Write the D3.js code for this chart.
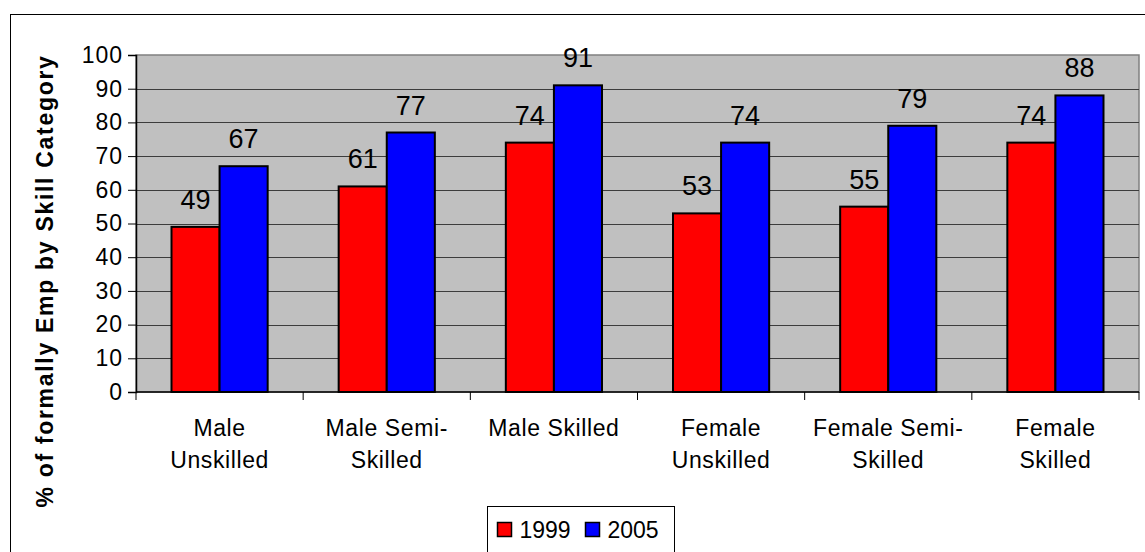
<!DOCTYPE html>
<html>
<head>
<meta charset="utf-8">
<script src="https://cdn.jsdelivr.net/npm/d3@7"></script>
<style>
  body { margin: 0; background: #fff; }
  text { font-family: Arial, "Liberation Sans", sans-serif; }
</style>
</head>
<body>
<div id="chart"></div>
<script>
var categories = [["Male", "Unskilled"], ["Male Semi-", "Skilled"], ["Male Skilled"],
                  ["Female", "Unskilled"], ["Female Semi-", "Skilled"], ["Female", "Skilled"]];
var series = ["1999", "2005"];
var values1999 = [49, 61, 74, 53, 55, 74];
var values2005 = [67, 77, 91, 74, 79, 88];
var yTicks = [0, 10, 20, 30, 40, 50, 60, 70, 80, 90, 100];
var colors = ["#FF0000", "#0000FF"];

var W = 1145, H = 552;
var margin = {top: 55, right: 6, bottom: 160, left: 136};
var width = W - margin.left - margin.right,
    height = H - margin.top - margin.bottom;

var svg = d3.select("#chart").append("svg")
    .attr("width", W)
    .attr("height", H);

// outer chart border
svg.append("rect")
    .attr("x", 10.5).attr("y", 14.5)
    .attr("width", 1160).attr("height", 560)
    .attr("fill", "none").attr("stroke", "#000").attr("stroke-width", 1);

var g = svg.append("g").attr("transform", "translate(" + margin.left + "," + margin.top + ")");

var x0 = d3.scaleBand().domain(d3.range(categories.length)).range([0, width]).paddingInner(0).paddingOuter(0);
var x1 = d3.scaleBand().domain(series).range([35.5, x0.bandwidth() - 35.5]);
var y = d3.scaleLinear().domain([0, 100]).range([height, 0]);

g.append("rect")
    .attr("width", width).attr("height", height)
    .attr("fill", "#C0C0C0")
    .attr("stroke", "#808080").attr("stroke-width", 1.5);

g.selectAll(".grid").data(yTicks.slice(1, -1)).enter().append("line")
    .attr("x1", 0).attr("x2", width)
    .attr("y1", function(d) { return Math.round(y(d)) + 0.5; })
    .attr("y2", function(d) { return Math.round(y(d)) + 0.5; })
    .attr("stroke", "#3c3c3c").attr("stroke-width", 1);

var rows = values1999.map(function(v, i) { return [v, values2005[i]]; });

var groups = g.selectAll(".grp").data(rows).enter().append("g")
    .attr("transform", function(d, i) { return "translate(" + x0(i) + ",0)"; });

groups.selectAll("rect").data(function(d) { return d; }).enter().append("rect")
    .attr("x", function(d, j) { return x1(series[j]); })
    .attr("y", function(d) { return y(d); })
    .attr("width", x1.bandwidth())
    .attr("height", function(d) { return height - y(d); })
    .attr("fill", function(d, j) { return colors[j]; })
    .attr("stroke", "#000").attr("stroke-width", 2);

groups.selectAll(".lbl").data(function(d) { return d; }).enter().append("text")
    .attr("x", function(d, j) { return x1(series[j]) + x1.bandwidth() / 2; })
    .attr("y", function(d) { return y(d) - 18; })
    .attr("text-anchor", "middle")
    .attr("font-size", 27)
    .attr("fill", "#000")
    .text(function(d) { return d; });

// y axis
var yAxis = g.append("g")
    .call(d3.axisLeft(y).tickValues(yTicks).tickSize(8).tickPadding(5).tickFormat(d3.format("d")));
yAxis.select(".domain").attr("stroke", "#000").attr("stroke-width", 1.5);
yAxis.selectAll("text").attr("font-size", 23).attr("letter-spacing", 1).attr("fill", "#000")
    .attr("font-family", "Arial, 'Liberation Sans', sans-serif");

// x axis
var xAxis = g.append("g")
    .attr("transform", "translate(0," + height + ")");
xAxis.append("line").attr("x1", 0).attr("x2", width).attr("stroke", "#000").attr("stroke-width", 1.5);
xAxis.selectAll(".tk").data(d3.range(categories.length + 1)).enter().append("line")
    .attr("x1", function(i) { return i * x0.step(); })
    .attr("x2", function(i) { return i * x0.step(); })
    .attr("y1", 0).attr("y2", 8)
    .attr("stroke", "#000");

xAxis.selectAll(".cat").data(categories).enter().append("text")
    .attr("x", function(d, i) { return x0(i) + x0.bandwidth() / 2; })
    .attr("y", 44)
    .attr("text-anchor", "middle")
    .attr("font-size", 23)
    .attr("letter-spacing", 0.6)
    .selectAll("tspan").data(function(d) { return d; }).enter().append("tspan")
    .attr("x", function() { return d3.select(this.parentNode).attr("x"); })
    .attr("dy", function(d, k) { return k === 0 ? 0 : 32; })
    .text(function(d) { return d; });

// y title
svg.append("text")
    .attr("transform", "translate(53,281) rotate(-90)")
    .attr("text-anchor", "middle")
    .attr("font-size", 23)
    .attr("font-weight", "bold")
    .attr("letter-spacing", 1.7)
    .text("% of formally Emp by Skill Category");

// legend
var legend = svg.append("g").attr("transform", "translate(487.5,506.5)");
legend.append("rect").attr("width", 187).attr("height", 60)
    .attr("fill", "#fff").attr("stroke", "#000").attr("stroke-width", 1);
var items = legend.selectAll(".it").data(series).enter().append("g")
    .attr("transform", function(d, i) { return "translate(" + (10 + i * 88) + ",16)"; });
items.append("rect").attr("width", 14).attr("height", 14)
    .attr("fill", function(d, i) { return colors[i]; })
    .attr("stroke", "#000").attr("stroke-width", 1.5);
items.append("text").attr("x", 22).attr("y", 15)
    .attr("font-size", 23)
    .text(function(d) { return d; });
</script>
</body>
</html>
